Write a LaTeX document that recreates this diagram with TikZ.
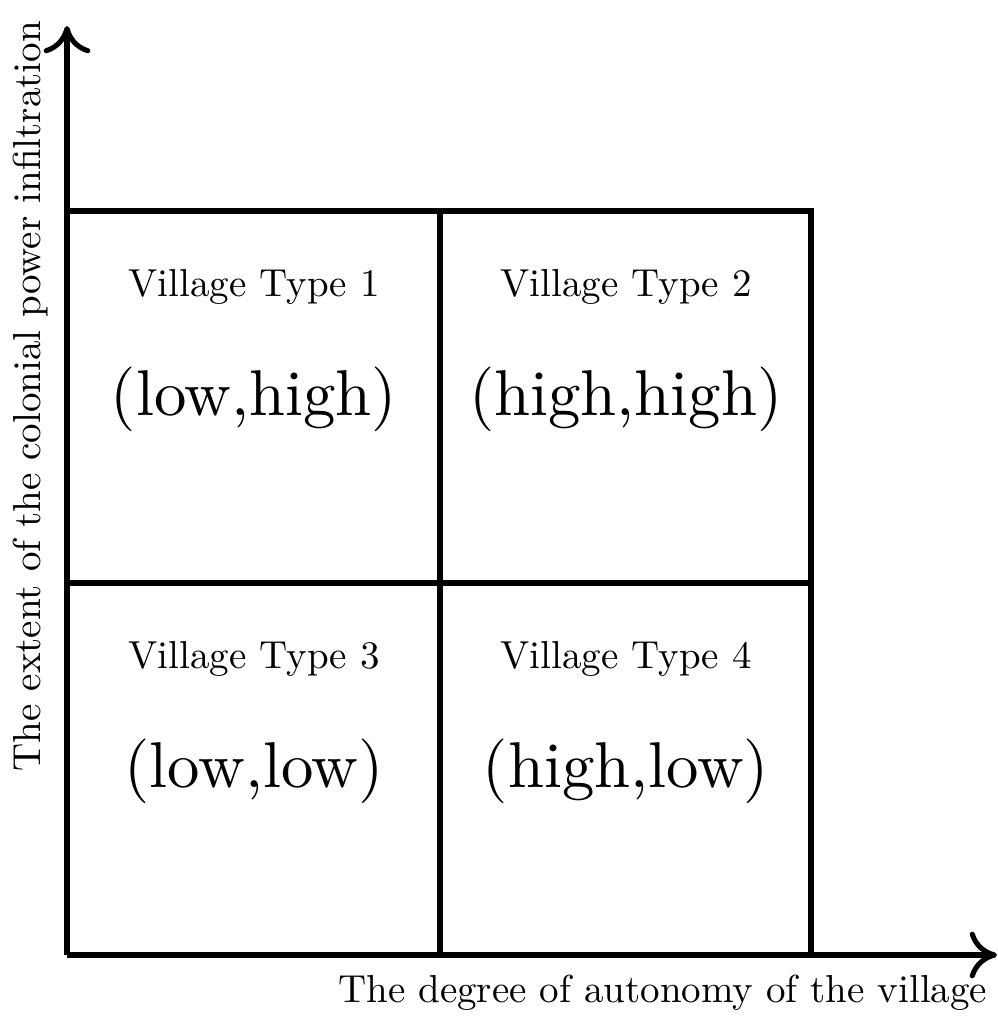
\documentclass[tikz,border=0pt]{standalone}
\usetikzlibrary{arrows.meta}

\newcommand{\pairtext}[1]{\scalebox{1.66}{#1}}

\tikzset{
  axis/.style={line width=1.3pt,-{Computer Modern Rightarrow[length=7pt,width=12pt]}},
  gridline/.style={line width=1.3pt},
  typelabel/.style={anchor=base,inner sep=0.75pt},
  pairlabel/.style={anchor=base,inner sep=0.75pt},
}

\begin{document}
\begin{tikzpicture}[x=0.2564pt,y=0.2564pt,yscale=-1,xscale=1]
\useasboundingbox (0,0) rectangle (998,1024);

%Points of the grid
\coordinate (O) at (67,955);
\coordinate (ytip) at (67,26);
\coordinate (xtip) at (997,955);
\coordinate (tl) at (67,211);
\coordinate (tm) at (440,211);
\coordinate (tr) at (811,211);
\coordinate (ml) at (67,583);
\coordinate (mr) at (811,583);
\coordinate (bm) at (440,955);
\coordinate (br) at (811,955);

%Straight Lines (grid)
\draw [gridline] (tl) -- (tr) -- (br) ;
\draw [gridline] (tm) -- (bm) ;
\draw [gridline] (ml) -- (mr) ;

%Straight Lines (axes)
\draw [axis] (O) -- (ytip) ;
\draw [axis] (O) -- (xtip) ;

% Text Node
\draw (254,296) node [typelabel] (type1) {Village Type 1};
% Text Node
\draw (254,415) node [pairlabel] (pair1) {\pairtext{(low,high)}};
% Text Node
\draw (626,296) node [typelabel] (type2) {Village Type 2};
% Text Node
\draw (626,415) node [pairlabel] (pair2) {\pairtext{(high,high)}};
% Text Node
\draw (254,668) node [typelabel] (type3) {Village Type 3};
% Text Node
\draw (254,787) node [pairlabel] (pair3) {\pairtext{(low,low)}};
% Text Node
\draw (626,668) node [typelabel] (type4) {Village Type 4};
% Text Node
\draw (626,787) node [pairlabel] (pair4) {\pairtext{(high,low)}};

% Text Node
\draw (988,1002) node [anchor=base east][inner sep=0pt] (xlabel) {The degree of autonomy of the village};
% Text Node
\draw (40,772) node [anchor=base west,rotate=90][inner sep=0pt] (ylabel) {The extent of the colonial power infiltration};

\end{tikzpicture}
\end{document}
